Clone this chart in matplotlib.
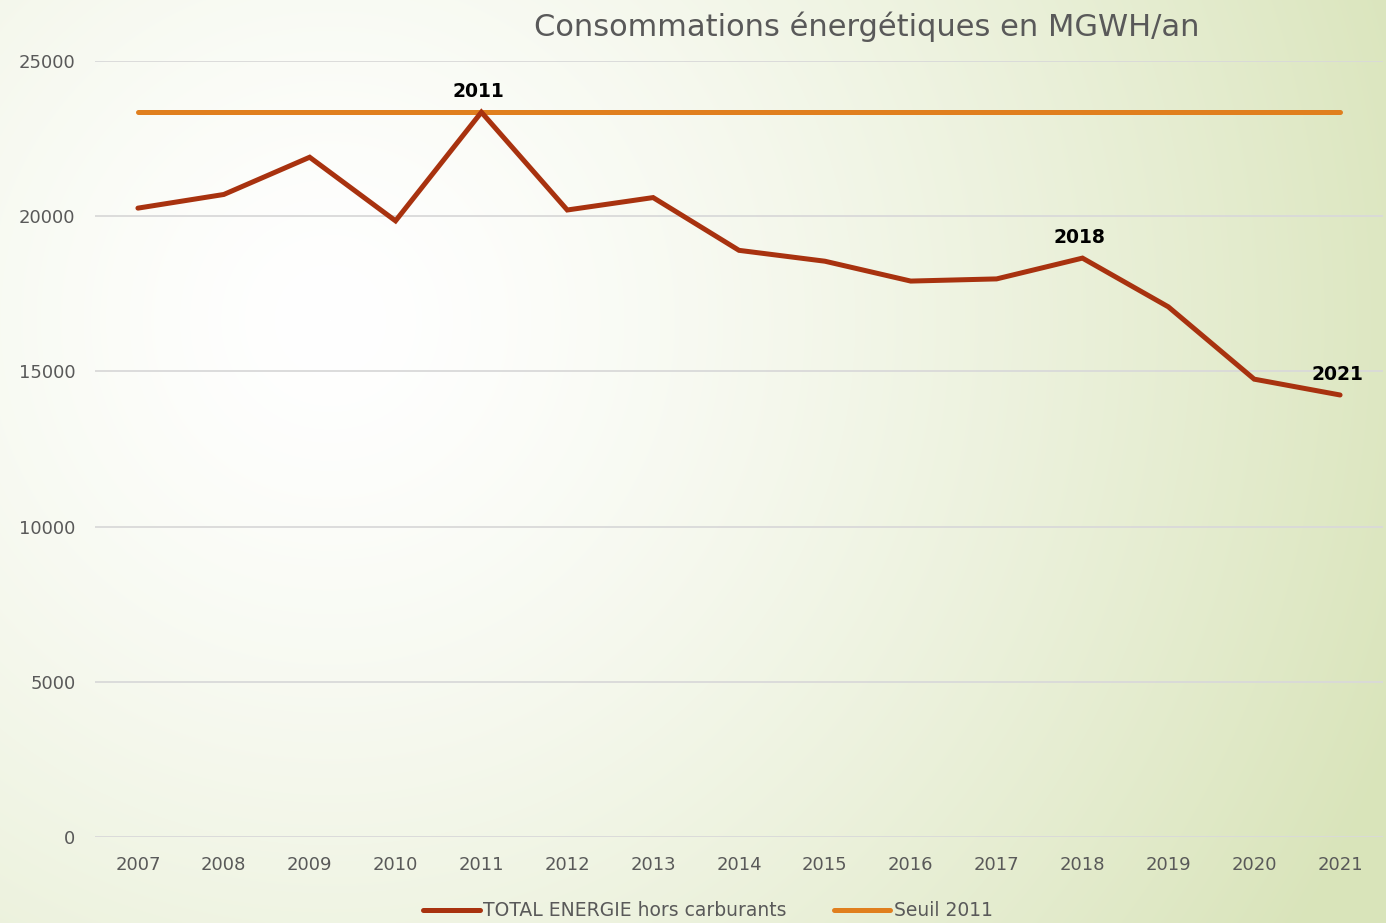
import numpy as np
import matplotlib
matplotlib.use("Agg")
import matplotlib.pyplot as plt
from matplotlib.colors import to_rgb

years = ["2007", "2008", "2009", "2010", "2011", "2012", "2013", "2014",
         "2015", "2016", "2017", "2018", "2019", "2020", "2021"]
total = [20260, 20700, 21900, 19850, 23350, 20200, 20600, 18900,
         18550, 17910, 17980, 18650, 17080, 14750, 14240]
seuil = [23350] * len(years)
labelled = ["2011", "2018", "2021"]

W, H = 1386, 923
fig = plt.figure(figsize=(W / 100, H / 100), dpi=100)

# background: pale radial gradient, white at the upper left, green at the right
yy, xx = np.mgrid[0:H, 0:W]
d = np.sqrt((xx - 330) ** 2 + (yy - 320) ** 2)
t = np.clip(d / 1150, 0, 1) ** 1.4
c0 = np.array(to_rgb("#ffffff"))
c1 = np.array(to_rgb("#d9e4ba"))
img = c0[None, None, :] * (1 - t[..., None]) + c1[None, None, :] * t[..., None]
bg = fig.add_axes([0, 0, 1, 1], zorder=-10)
bg.imshow(img, aspect="auto", extent=[0, 1, 0, 1])
bg.axis("off")

ax = fig.add_axes([95 / W, (H - 837) / H, (1383 - 95) / W, (837 - 61) / H])
ax.patch.set_alpha(0)
x = np.arange(len(years))
ax.plot(x, total, color="#a8320f", lw=3.6, solid_capstyle="round",
        solid_joinstyle="miter", label="TOTAL ENERGIE hors carburants", zorder=3)
ax.plot(x, seuil, color="#e07f1e", lw=3.6, solid_capstyle="round",
        label="Seuil 2011", zorder=2)

for i, yr in enumerate(years):
    if yr in labelled:
        ax.annotate(yr, (x[i], total[i]), xytext=(-2, 8), textcoords="offset points",
                    ha="center", va="bottom", fontsize=13.5, fontweight="bold", color="black")

ax.set_xlim(-0.5, len(years) - 0.5)
ax.set_ylim(0, 25000)
ax.set_yticks(range(0, 25001, 5000))
ax.set_xticks(x)
ax.set_xticklabels(years)
ax.grid(axis="y", color="#d9d9d9", lw=1.3)
ax.set_axisbelow(True)
for s in ax.spines.values():
    s.set_visible(False)
ax.tick_params(length=0, colors="#595959", labelsize=13)
ax.tick_params(axis="y", pad=14)
ax.tick_params(axis="x", pad=14)

fig.text(867 / W, 1 - 27 / H, "Consommations énergétiques en MGWH/an", ha="center",
         va="center", fontsize=22, color="#595959")
fig.legend(loc="center", bbox_to_anchor=(708 / W, 1 - 911 / H), ncol=2, frameon=False,
           fontsize=13.5, handlelength=3.0, handletextpad=0.2, columnspacing=2.5,
           labelcolor="#595959")

fig.savefig("out.png", dpi=100)
